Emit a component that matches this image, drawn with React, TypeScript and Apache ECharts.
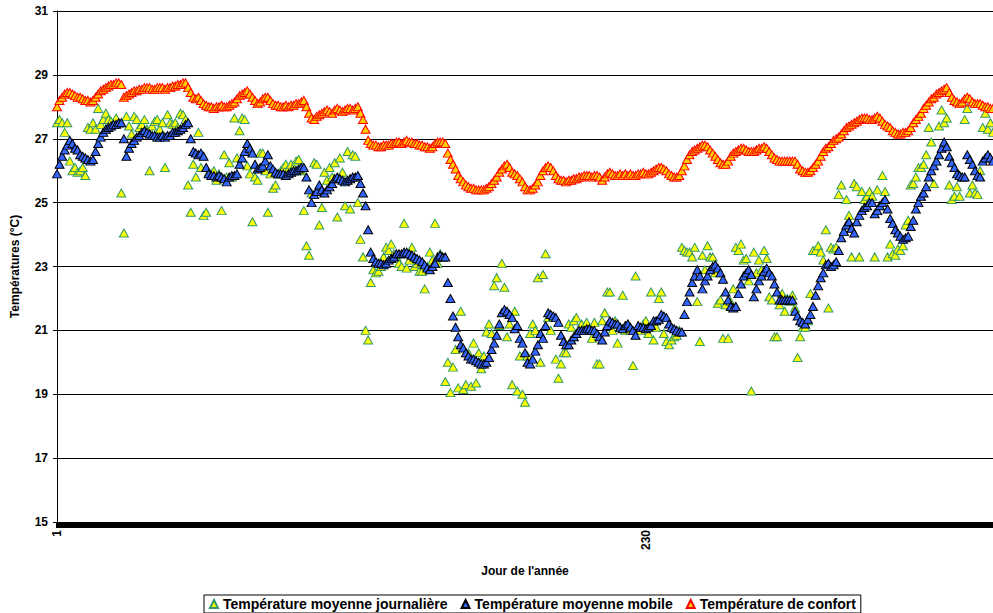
import React, { useEffect, useRef } from "react";
import * as echarts from "echarts";

const dayLabels: string[] = Array.from({ length: 365 }, (_, i) => String(i + 1));
const shownDayLabels = ["1", "230"];
const yTicks = [15, 17, 19, 21, 23, 25, 27, 29, 31];
const seriesNames = [
  "Température moyenne journalière",
  "Température moyenne mobile",
  "Température de confort",
];

const dailyTemp = [
  27.5, 27.6, 27.5, 27.2, 27.5, 26.3, 26.0, 26.1, 25.95, 26.0,
  26.1, 25.85, 27.35, 27.3, 27.5, 27.3, 27.95, 27.45, 27.6, 27.8,
  27.6, 27.55, 27.5, 27.65, 27.5, 25.3, 24.05, 27.7, 27.4, 27.15,
  27.7, 27.6, 27.35, 27.45, 27.6, 27.3, 26.0, 27.4, 27.55, 27.6,
  27.3, 27.5, 26.1, 27.75, 27.5, 27.45, 27.5, 27.35, 27.8, 27.75,
  27.6, 25.55, 24.7, 26.2, 25.8, 27.2, 26.1, 24.6, 24.7, 25.95,
  25.9, 26.0, 25.7, 25.9, 24.75, 26.5, 25.8, 26.25, 25.8, 27.65,
  26.4, 27.25, 27.65, 27.6, 26.15, 25.9, 24.4, 25.8, 25.7, 26.55,
  26.55, 26.0, 24.7, 25.9, 25.45, 25.55, 25.9, 26.0, 26.1, 26.2,
  26.05, 26.2, 26.1, 26.3, 26.35, 26.0, 24.75, 23.65, 23.35, 25.3,
  26.25, 26.2, 24.3, 24.85, 25.95, 25.7, 26.1, 25.8, 26.25, 24.55,
  26.4, 25.95, 24.9, 26.6, 24.8, 26.5, 26.45, 25.0, 23.85, 23.3,
  21.0, 20.7, 22.5, 22.9, 22.8, 22.85, 23.0, 23.3, 23.6, 23.5,
  23.7, 23.4, 23.3, 23.1, 23.0, 24.35, 22.95, 23.2, 23.6, 23.0,
  23.1, 22.85, 22.85, 22.3, 23.0, 23.45, 23.2, 24.35, 23.1, 23.4,
  23.3, 19.4, 20.0, 19.05, 19.85, 20.4, 19.2, 21.6, 19.15, 19.3,
  20.3, 19.25, 20.6, 19.35, 20.3, 19.8, 20.2, 20.95, 21.2, 20.9,
  22.4, 22.65, 21.15, 23.1, 22.35, 20.8, 21.2, 19.3, 21.6, 19.1,
  20.2, 19.0, 18.75, 20.2, 20.9, 21.2, 21.0, 22.65, 20.0, 22.75,
  23.4, 21.4, 21.0, 21.4, 20.1, 19.5, 19.95, 20.3, 20.3, 21.2,
  21.1, 21.3, 21.4, 21.0, 21.2, 21.1, 21.25, 21.0, 20.75, 21.25,
  19.95, 19.95, 21.3, 21.55, 22.2, 22.2, 21.0, 21.3, 20.6, 21.1,
  22.1, 21.0, 21.2, 21.0, 19.9, 22.7, 21.1, 21.0, 21.2, 21.3,
  20.9, 22.2, 20.7, 21.1, 22.0, 22.2, 20.9, 20.65, 20.55, 20.7,
  20.8, 20.85, 21.0, 23.6, 23.5, 23.45, 23.45, 23.3, 23.6, 21.9,
  20.65, 23.35, 22.9, 23.65, 23.3, 23.3, 22.8, 21.85, 21.95, 20.75,
  21.8, 20.75, 21.9, 22.3, 23.6, 23.5, 23.7, 23.2, 23.25, 22.55,
  19.1, 23.45, 22.8, 23.2, 22.9, 23.5, 23.25, 22.05, 21.95, 20.8,
  20.8, 21.8, 22.15, 21.6, 22.0, 21.9, 22.1, 21.7, 20.15, 20.8,
  21.1, 21.1, 21.3, 22.15, 23.5, 23.5, 23.65, 23.45, 23.2, 24.15,
  21.7, 23.6, 23.55, 23.6, 25.25, 25.55, 24.1, 25.1, 24.6, 23.3,
  25.6, 25.5, 23.3, 25.35, 25.1, 25.2, 25.35, 25.2, 23.3, 25.4,
  24.9, 25.85, 25.35, 23.3, 23.7, 23.4, 23.35, 23.55, 23.5, 23.65,
  24.3, 24.45, 25.55, 25.6, 25.8, 26.1, 26.1, 26.2, 26.5, 27.35,
  26.9, 25.6, 26.3, 27.4, 27.9, 27.5, 27.65, 25.55, 25.1, 25.2,
  25.5, 25.2, 25.8, 27.6, 27.95, 25.3, 25.55, 25.3, 25.25, 26.0,
  27.35, 27.8, 27.3, 27.5, 27.2,
];

const movingTemp = [
  25.9, 26.2, 26.45, 26.65, 26.8, 26.95, 26.85, 26.7, 26.65, 26.5,
  26.45, 26.4, 26.35, 26.3, 26.35, 26.6, 26.85, 27.05, 27.2, 27.3,
  27.35, 27.4, 27.45, 27.45, 27.5, 27.5, 27.0, 26.45, 26.7, 26.85,
  26.95, 27.05, 27.1, 27.2, 27.25, 27.2, 27.15, 27.1, 27.1, 27.05,
  27.05, 27.1, 27.05, 27.1, 27.1, 27.2, 27.2, 27.25, 27.3, 27.35,
  27.45, 27.5, 27.0, 26.6, 26.55, 26.5, 26.55, 26.45, 26.1, 25.9,
  25.85, 25.85, 25.8, 25.85, 25.8, 25.75, 25.65, 25.8, 25.85, 25.85,
  25.9, 26.2, 26.4, 26.6, 26.85, 26.7, 26.55, 26.2, 26.05, 26.1,
  26.15, 26.3, 26.5, 26.15, 26.05, 25.95, 25.9, 25.9, 25.9, 25.85,
  25.9, 25.95, 26.0, 26.0, 26.05, 26.1, 26.1, 25.8, 25.4, 25.0,
  25.25, 25.35, 25.55, 25.4, 25.3, 25.4, 25.5, 25.6, 25.75, 25.8,
  25.75, 25.7, 25.65, 25.7, 25.75, 25.8, 25.8, 25.85, 25.6, 25.3,
  24.9, 24.15, 23.45, 23.25, 23.15, 23.1, 23.1, 23.05, 23.1, 23.2,
  23.25, 23.3, 23.4, 23.4, 23.4, 23.45, 23.45, 23.4, 23.35, 23.3,
  23.25, 23.2, 23.15, 23.05, 22.95, 22.9, 23.0, 23.1, 23.3, 23.35,
  23.3, 23.3, 22.5, 22.0, 21.45, 21.1, 20.8, 20.55, 20.45, 20.3,
  20.2, 20.1, 20.1, 20.05, 20.0, 19.95, 19.95, 20.0, 20.15, 20.4,
  20.6, 20.85, 21.2, 21.55, 21.65, 21.6, 21.5, 21.4, 21.05, 21.15,
  20.75, 20.6, 20.3, 20.0, 19.95, 20.1, 20.35, 20.55, 20.9, 20.75,
  21.15, 21.55, 21.5, 21.45, 21.4, 21.25, 20.85, 20.65, 20.55, 20.55,
  20.7, 20.8, 20.9, 21.0, 21.0, 21.0, 21.05, 21.05, 21.0, 21.0,
  20.9, 20.8, 20.7, 20.95, 21.15, 21.3, 21.25, 21.2, 21.2, 21.1,
  21.05, 21.15, 21.2, 21.1, 21.0, 20.85, 21.15, 21.1, 21.1, 21.05,
  21.1, 21.15, 21.3, 21.3, 21.35, 21.5, 21.45, 21.4, 21.2, 21.1,
  21.05, 21.0, 20.95, 20.95, 21.5, 21.9, 22.2, 22.5, 22.7, 22.9,
  22.7, 22.3, 22.55, 22.7, 22.9, 23.0, 23.05, 22.95, 22.8, 22.6,
  22.2, 21.95, 21.75, 21.7, 21.75, 22.15, 22.45, 22.7, 22.8, 22.9,
  22.75, 22.05, 22.3, 22.55, 22.7, 22.85, 22.95, 22.8, 22.7, 22.45,
  22.2, 21.95, 21.95, 21.95, 21.95, 21.95, 21.95, 21.6, 21.45, 21.3,
  21.25, 21.2, 21.35, 21.5, 21.75, 22.1, 22.4, 22.65, 22.8, 23.05,
  23.1, 23.0, 23.05, 23.15, 23.5, 23.9, 24.1, 24.3, 24.4, 24.2,
  24.05, 24.4, 24.6, 24.75, 24.85, 24.9, 25.0, 25.0, 24.65, 24.75,
  24.9, 25.0, 25.1, 24.8, 24.5, 24.35, 24.15, 24.05, 23.95, 23.85,
  23.9, 23.95, 24.25, 24.45, 24.8, 25.0, 25.2, 25.3, 25.5, 25.8,
  26.0, 26.15, 26.3, 26.5, 26.7, 26.9, 26.75, 26.45, 26.25, 26.1,
  25.9, 25.85, 25.8, 25.8, 26.5, 26.35, 26.2, 26.0, 25.85, 25.8,
  26.3, 26.4, 26.5, 26.4, 26.3,
];

const comfortTemp = [
  28.0, 28.2, 28.3, 28.4, 28.45, 28.45, 28.4, 28.35, 28.3, 28.3,
  28.25, 28.2, 28.2, 28.15, 28.2, 28.3, 28.4, 28.5, 28.55, 28.6,
  28.65, 28.7, 28.7, 28.75, 28.75, 28.7, 28.3, 28.35, 28.4, 28.45,
  28.5, 28.5, 28.55, 28.55, 28.6, 28.6, 28.6, 28.55, 28.55, 28.6,
  28.6, 28.6, 28.55, 28.6, 28.6, 28.65, 28.65, 28.7, 28.7, 28.75,
  28.75, 28.6, 28.45, 28.3, 28.25, 28.3, 28.2, 28.1, 28.05, 28.0,
  28.0, 27.95, 28.0, 28.0, 28.05, 28.0, 28.0, 28.05, 28.1, 28.15,
  28.25, 28.35, 28.4, 28.45, 28.5, 28.4, 28.3, 28.2, 28.1, 28.15,
  28.25, 28.3, 28.3, 28.2, 28.1, 28.05, 28.05, 28.0, 28.0, 28.05,
  28.0, 28.05, 28.05, 28.1, 28.1, 28.15, 28.2, 28.0, 27.8, 27.65,
  27.6, 27.7, 27.75, 27.8, 27.85, 27.9, 27.85, 27.8, 27.9, 27.95,
  27.9, 27.85, 27.9, 27.95, 27.95, 27.9, 27.95, 28.0, 27.8, 27.6,
  27.3, 26.95, 26.85, 26.8, 26.8, 26.75, 26.75, 26.8, 26.8, 26.8,
  26.85, 26.85, 26.9, 26.9, 26.85, 26.9, 26.95, 26.9, 26.9, 26.85,
  26.85, 26.8, 26.8, 26.75, 26.75, 26.7, 26.75, 26.85, 26.9, 26.9,
  26.9, 26.85, 26.55, 26.35, 26.2, 26.05, 25.85, 25.75, 25.65, 25.55,
  25.5, 25.45, 25.45, 25.4, 25.4, 25.4, 25.4, 25.45, 25.5, 25.6,
  25.7, 25.8, 25.95, 26.05, 26.15, 26.2, 26.1, 25.95, 25.9, 25.85,
  25.75, 25.65, 25.5, 25.4, 25.4, 25.45, 25.55, 25.65, 25.85, 26.0,
  26.1, 26.15, 26.1, 26.0, 25.85, 25.75, 25.7, 25.7, 25.65, 25.7,
  25.7, 25.75, 25.75, 25.8, 25.8, 25.85, 25.85, 25.85, 25.8, 25.85,
  25.85, 25.8, 25.7, 25.8, 25.9, 25.95, 25.9, 25.85, 25.85, 25.9,
  25.85, 25.9, 25.85, 25.9, 25.85, 25.85, 25.9, 25.9, 25.95, 25.9,
  25.9, 25.95, 26.0, 26.05, 26.1, 26.1, 26.05, 26.0, 25.9, 25.85,
  25.8, 25.8, 25.85, 26.0, 26.15, 26.35, 26.5, 26.6, 26.65, 26.7,
  26.75, 26.8, 26.8, 26.75, 26.65, 26.55, 26.45, 26.35, 26.25, 26.2,
  26.2, 26.3, 26.45, 26.55, 26.6, 26.65, 26.7, 26.7, 26.65, 26.6,
  26.6, 26.6, 26.65, 26.7, 26.7, 26.75, 26.7, 26.6, 26.5, 26.4,
  26.35, 26.3, 26.3, 26.3, 26.3, 26.3, 26.3, 26.3, 26.2, 26.05,
  26.0, 25.95, 25.95, 26.0, 26.1, 26.2, 26.3, 26.45, 26.6, 26.7,
  26.75, 26.85, 26.95, 27.0, 27.05, 27.15, 27.25, 27.35, 27.4, 27.45,
  27.5, 27.55, 27.6, 27.65, 27.65, 27.65, 27.6, 27.6, 27.65, 27.7,
  27.65, 27.55, 27.45, 27.4, 27.35, 27.25, 27.2, 27.15, 27.15, 27.2,
  27.2, 27.25, 27.35, 27.5, 27.6, 27.7, 27.8, 27.95, 28.05, 28.15,
  28.25, 28.3, 28.4, 28.45, 28.5, 28.55, 28.6, 28.45, 28.3, 28.2,
  28.15, 28.1, 28.15, 28.25, 28.3, 28.25, 28.15, 28.1, 28.1, 28.1,
  28.05, 28.0, 28.0, 27.95, 27.95,
];

const FONT = 'Arial, "Liberation Sans", sans-serif';

export default function App() {
  const ref = useRef<HTMLDivElement>(null);

  useEffect(() => {
    if (!ref.current) return;
    const chart = echarts.init(ref.current, null, { renderer: "svg" });
    const marker = (fill: string, border: string) => ({
      color: fill,
      borderColor: border,
      borderWidth: 1,
      opacity: 1,
    });
    chart.setOption({
      animation: false,
      backgroundColor: "#ffffff",
      textStyle: { fontFamily: FONT },
      grid: { left: 57, right: -7, top: 11, bottom: 91, containLabel: false },
      legend: {
        data: seriesNames,
        left: 204,
        top: 595,
        orient: "horizontal",
        icon: "triangle",
        itemWidth: 8,
        itemHeight: 8,
        itemGap: 13,
        padding: [2, 5, 2, 5],
        borderColor: "#000000",
        borderWidth: 1,
        borderRadius: 0,
        textStyle: { fontFamily: FONT, fontWeight: "bold", fontSize: 14, color: "#000000" },
      },
      xAxis: {
        type: "category",
        data: dayLabels,
        boundaryGap: false,
        name: "Jour de l'année",
        nameLocation: "middle",
        nameGap: 43,
        nameTextStyle: { fontFamily: FONT, fontWeight: "bold", fontSize: 12, color: "#000000" },
        axisLine: { show: true, lineStyle: { color: "#000000", width: 1 } },
        axisTick: { show: true, interval: 0, length: 6, lineStyle: { color: "#000000", width: 3 } },
        axisLabel: {
          interval: (_index: number, value: string) => shownDayLabels.includes(value),
          rotate: 90,
          margin: 8,
          fontFamily: FONT,
          fontWeight: "bold",
          fontSize: 12,
          color: "#000000",
        },
        splitLine: { show: false },
      },
      yAxis: {
        type: "value",
        min: yTicks[0],
        max: yTicks[yTicks.length - 1],
        interval: 2,
        name: "Températures (°C)",
        nameLocation: "middle",
        nameGap: 36,
        nameTextStyle: { fontFamily: FONT, fontWeight: "bold", fontSize: 12, color: "#000000" },
        axisLine: { show: true, lineStyle: { color: "#000000", width: 1 } },
        axisTick: { show: true, length: 4, lineStyle: { color: "#000000" } },
        axisLabel: { margin: 9, fontFamily: FONT, fontWeight: "bold", fontSize: 12, color: "#000000" },
        splitLine: { show: true, lineStyle: { color: "#000000", width: 1 } },
      },
      series: [
        {
          name: seriesNames[0],
          type: "scatter",
          data: dailyTemp,
          symbol: "triangle",
          symbolSize: [9, 8],
          itemStyle: marker("#FFFF00", "#339966"),
        },
        {
          name: seriesNames[1],
          type: "scatter",
          data: movingTemp,
          symbol: "triangle",
          symbolSize: [9, 8],
          itemStyle: marker("#3366FF", "#000000"),
        },
        {
          name: seriesNames[2],
          type: "scatter",
          data: comfortTemp,
          symbol: "triangle",
          symbolSize: [9, 8],
          itemStyle: marker("#FFCC00", "#FF0000"),
        },
      ],
    });
    return () => chart.dispose();
  }, []);

  return (
    <div
      ref={ref}
      style={{ position: "absolute", left: 0, top: 0, width: 993, height: 613, overflow: "hidden" }}
    />
  );
}
